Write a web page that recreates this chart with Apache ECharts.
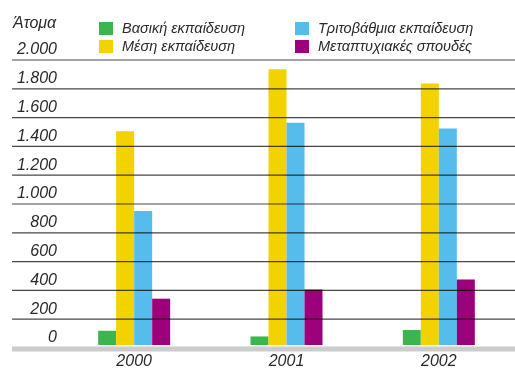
<!DOCTYPE html>
<html>
<head>
<meta charset="utf-8">
<script src="https://cdn.jsdelivr.net/npm/echarts@6/dist/echarts.min.js"></script>
<style>
  html, body { margin: 0; padding: 0; background: #fff; }
  #chart { width: 515px; height: 370px; }
</style>
</head>
<body>
<div id="chart"></div>
<script>
// Persons by level of education, 2000–2002
const years = ['2000', '2001', '2002'];
const seriesNames = ['Βασική εκπαίδευση', 'Μέση εκπαίδευση', 'Τριτοβάθμια εκπαίδευση', 'Μεταπτυχιακές σπουδές'];
const basic = [100, 60, 105];
const secondary = [1500, 1935, 1835];
const tertiary = [940, 1560, 1520];
const postgraduate = [325, 390, 460];
const yTickLabels = ['0', '200', '400', '600', '800', '1.000', '1.200', '1.400', '1.600', '1.800', '2.000'];
const yStep = 200;
const yMax = 2000;

const colors = ['#3db54f', '#f2d300', '#55bcec', '#9c007a'];
const font = 'Liberation Sans, Arial, sans-serif';

const chart = echarts.init(document.getElementById('chart'), null, { renderer: 'canvas' });

const values = [basic, secondary, tertiary, postgraduate];

// rule positions: every tick above zero
const ruleValues = yTickLabels.map((_, i) => i * yStep).filter(v => v > 0);

const legendText = { fontFamily: font, fontStyle: 'italic', fontSize: 14.5, color: '#2a2a2a', padding: [0, 0, 0, 4] };

const barSeries = seriesNames.map((name, i) => ({
  name, type: 'bar', xAxisIndex: 1, yAxisIndex: 1, z: 0,
  data: values[i], barWidth: 18, barGap: '0%',
  itemStyle: { color: colors[i] }
}));

// horizontal rules and grey base, drawn with a custom series above the bars
const ruleItems = ruleValues.map(v => [v, 0]).concat([[0, 1]]);
const rulesSeries = {
  name: 'rules', type: 'custom', xAxisIndex: 0, yAxisIndex: 0,
  z: 30, zlevel: 1, silent: true, clip: false,
  encode: { y: 0 },
  data: ruleItems,
  renderItem: (params, api) => {
    const y = api.coord([0, api.value(0)])[1];
    const cs = params.coordSys;
    const isBase = api.value(1) === 1;
    const yy = isBase ? y + 1 : y;
    return {
      type: 'line',
      shape: { x1: cs.x, y1: yy, x2: cs.x + cs.width, y2: yy },
      style: isBase
        ? { stroke: '#cccccc', lineWidth: 5 }
        : { stroke: 'rgba(0,0,0,0.72)', lineWidth: 1.2 }
    };
  }
};

chart.setOption({
  animation: false,
  title: {
    text: 'Άτομα',
    left: 13, top: 16, padding: 0,
    textStyle: { fontFamily: font, fontStyle: 'italic', fontWeight: 'normal', fontSize: 16, color: '#2a2a2a' }
  },
  legend: [
    {
      data: [seriesNames[0], seriesNames[1]],
      orient: 'vertical', left: 99, top: 21, padding: 0,
      itemWidth: 14, itemHeight: 13, itemGap: 3, icon: 'rect',
      textStyle: legendText
    },
    {
      data: [seriesNames[2], seriesNames[3]],
      orient: 'vertical', left: 295, top: 21, padding: 0,
      itemWidth: 14, itemHeight: 13, itemGap: 3, icon: 'rect',
      textStyle: legendText
    }
  ],
  grid: [
    // frame for the horizontal rules and value labels
    { left: 12, right: 0, top: 60, bottom: 22 },
    // plotting area for the bars
    { left: 58, right: -2, top: 60, bottom: 22 }
  ],
  xAxis: [
    {
      gridIndex: 0, type: 'value', min: 0, max: 1, show: false,
      splitLine: { show: false }
    },
    {
      gridIndex: 1, type: 'category', data: years,
      axisLine: { show: false }, axisTick: { show: false },
      axisLabel: { margin: 9, fontFamily: font, fontStyle: 'italic', fontSize: 16, color: '#2a2a2a' }
    }
  ],
  yAxis: [
    {
      gridIndex: 0, type: 'value', min: 0, max: yMax, interval: yStep,
      axisLine: { show: false }, axisTick: { show: false },
      splitLine: { show: false },
      axisLabel: {
        inside: true, margin: 45, align: 'right', verticalAlign: 'bottom',
        padding: [0, 0, 2, 0], lineHeight: 16,
        fontFamily: font, fontStyle: 'italic', fontSize: 16, color: '#2a2a2a',
        formatter: v => yTickLabels[Math.round(v / yStep)]
      }
    },
    {
      gridIndex: 1, type: 'value', min: 0, max: yMax, interval: yStep, show: false,
      splitLine: { show: false }
    }
  ],
  series: barSeries.concat([rulesSeries])
});
</script>
</body>
</html>
